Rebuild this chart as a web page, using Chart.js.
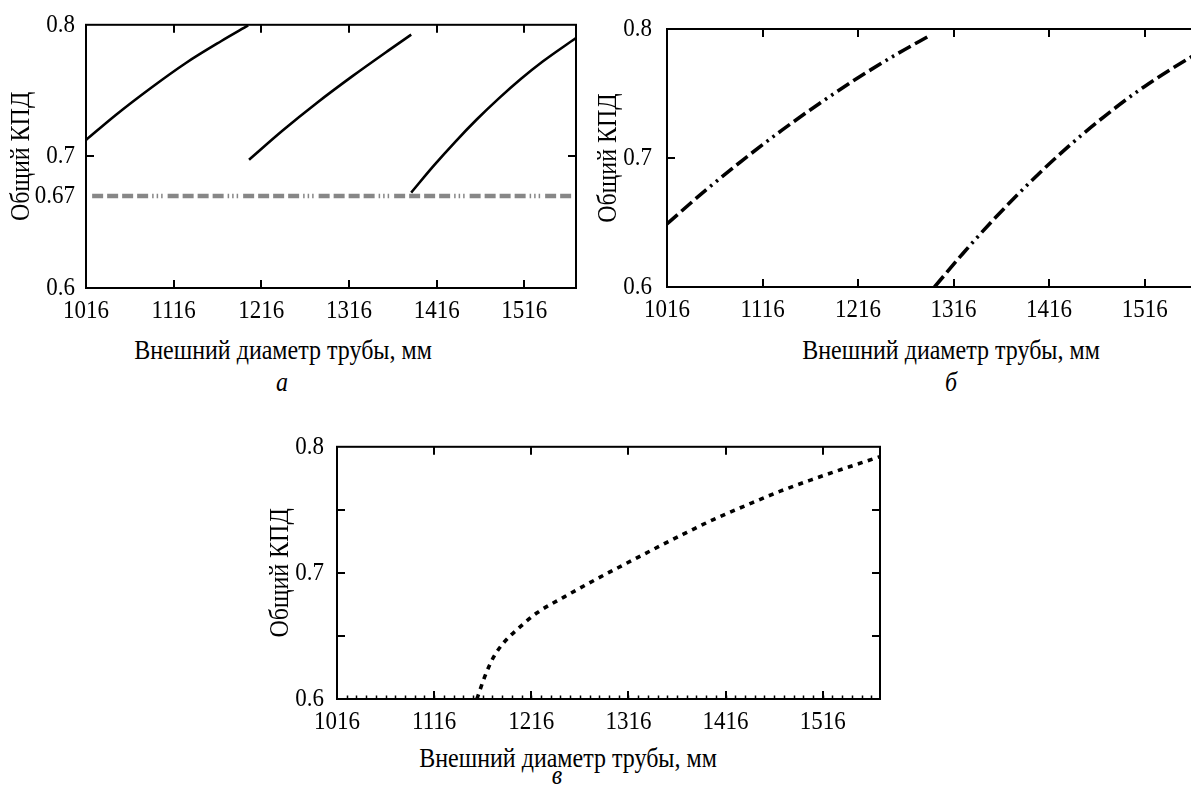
<!DOCTYPE html>
<html lang="ru">
<head>
<meta charset="UTF-8">
<title>Общий КПД — внешний диаметр трубы</title>
<script src="https://cdn.jsdelivr.net/npm/chart.js@4"></script>
<style>
  html, body { margin: 0; padding: 0; background: #fff; overflow: hidden; width: 1191px; height: 792px; }
  body { position: relative; font-family: 'Liberation Serif', 'Times New Roman', serif; color: #000; }
  .panel { position: absolute; }
  .xtitle, .letter { position: absolute; font-size: 24px; line-height: 24px; white-space: nowrap; transform: translateX(-50%) scaleY(1.12); }
  .letter { font-style: italic; }
</style>
</head>
<body>
<div class="panel" style="left:0;top:0"><canvas id="chart-a" width="600" height="330"></canvas></div>
<div class="panel" style="left:580px;top:0"><canvas id="chart-b" width="640" height="330"></canvas></div>
<div class="panel" style="left:260px;top:420px"><canvas id="chart-v" width="640" height="320"></canvas></div>

<div class="xtitle" style="left:283px;top:338px">Внешний диаметр трубы, мм</div>
<div class="letter" style="left:282px;top:370px">а</div>
<div class="xtitle" style="left:951px;top:338px">Внешний диаметр трубы, мм</div>
<div class="letter" style="left:951px;top:370px">б</div>
<div class="xtitle" style="left:568px;top:746px">Внешний диаметр трубы, мм</div>
<div class="letter" style="left:557px;top:763px">в</div>

<script>
// axes
const xMin = 1016, xMax = 1575;
const xTicks = [1016, 1116, 1216, 1316, 1416, 1516];
const yTicksA = [0.6, 0.67, 0.7, 0.8];
const yTicks = [0.6, 0.7, 0.8];

// panel а
const aX1 = [1016, 1050, 1090, 1130, 1170, 1201];
const aY1 = [0.7125, 0.7315, 0.752, 0.771, 0.7875, 0.7995];
const aX2 = [1202, 1240, 1280, 1320, 1360, 1387];
const aY2 = [0.6975, 0.7195, 0.741, 0.761, 0.780, 0.7925];
const aX3 = [1387, 1412, 1437, 1462, 1487, 1512, 1537, 1575];
const aY3 = [0.6725, 0.6924, 0.7109, 0.7282, 0.7441, 0.7588, 0.7721, 0.790];
const aXLim = [1023, 1575];
const aYLim = [0.67, 0.67];

// panel б
const bX1 = [1016, 1056, 1096, 1136, 1176, 1216, 1256, 1292];
const bY1 = [0.649, 0.6747, 0.6988, 0.7214, 0.7425, 0.7622, 0.7803, 0.7953];
const bX2 = [1296, 1326, 1356, 1396, 1436, 1476, 1516, 1565, 1575];
const bY2 = [0.6, 0.6262, 0.6508, 0.6812, 0.7088, 0.7335, 0.7555, 0.7785, 0.7827];

// panel в
const vX = [1160, 1168, 1177, 1188, 1202, 1222, 1250, 1280, 1310, 1340, 1372, 1404, 1440, 1473, 1505, 1535, 1575];
const vY = [0.6, 0.6175, 0.633, 0.645, 0.6555, 0.6684, 0.681, 0.6938, 0.706, 0.718, 0.7305, 0.7425, 0.7545, 0.765, 0.774, 0.782, 0.7922];

Chart.defaults.font.family = "'Liberation Serif', 'Times New Roman', serif";
Chart.defaults.color = '#000';

const pts = (xs, ys) => xs.map((x, i) => ({ x: x, y: ys[i] }));

// the scanned figure has slightly tall lettering; stretch canvas text a bit
function stretchText(canvas, k) {
  const ctx = canvas.getContext('2d');
  const orig = ctx.fillText.bind(ctx);
  ctx.fillText = function (text, x, y, maxWidth) {
    ctx.save();
    ctx.translate(x, y);
    ctx.scale(1, k);
    if (maxWidth === undefined) orig(text, 0, 0);
    else orig(text, 0, 0, maxWidth);
    ctx.restore();
  };
}

// frame with inward ticks on all sides
const framePlugin = {
  id: 'frame',
  afterDatasetsDraw(chart, args, opts) {
    const { ctx, chartArea: a, scales: { x, y } } = chart;
    ctx.save();
    ctx.strokeStyle = '#000';
    ctx.lineWidth = 2;
    ctx.strokeRect(a.left, a.top, a.right - a.left, a.bottom - a.top);
    ctx.beginPath();
    (opts.xMarks || []).forEach(v => {
      const px = Math.round(x.getPixelForValue(v));
      ctx.moveTo(px, a.top); ctx.lineTo(px, a.top + 8);
      ctx.moveTo(px, a.bottom); ctx.lineTo(px, a.bottom - 8);
    });
    (opts.yMarks || []).forEach(v => {
      const py = Math.round(y.getPixelForValue(v));
      ctx.moveTo(a.left, py); ctx.lineTo(a.left + 8, py);
      ctx.moveTo(a.right, py); ctx.lineTo(a.right - 8, py);
    });
    ctx.stroke();
    if (opts.xMinor) {
      ctx.lineWidth = 1.5;
      ctx.beginPath();
      for (let v = xMin + opts.xMinor; v < xMax; v += opts.xMinor) {
        const px = Math.round(x.getPixelForValue(v)) + 0.5;
        ctx.moveTo(px, a.bottom); ctx.lineTo(px, a.bottom - 3.5);
      }
      ctx.stroke();
    }
    ctx.restore();
  }
};

function makeChart(id, cfg) {
  const canvas = document.getElementById(id);
  stretchText(canvas, 1.12);
  return new Chart(canvas, {
    type: 'line',
    data: { datasets: cfg.datasets },
    options: {
      responsive: false,
      animation: false,
      layout: { padding: { top: cfg.top, right: cfg.right, left: 0, bottom: 0 } },
      elements: {
        point: { radius: 0 },
        line: { borderCapStyle: 'butt', cubicInterpolationMode: 'monotone', fill: false }
      },
      plugins: { legend: { display: false }, tooltip: { enabled: false }, frame: cfg.frame },
      scales: {
        x: {
          type: 'linear', min: xMin, max: xMax,
          grid: { display: false, drawTicks: false }, border: { display: false },
          afterBuildTicks: s => { s.ticks = xTicks.map(v => ({ value: v })); },
          afterFit: s => { s.height = cfg.xHeight; },
          ticks: { autoSkip: false, maxRotation: 0, padding: 9, font: { size: 23 }, color: '#000', callback: v => String(v) }
        },
        y: {
          type: 'linear', min: 0.6, max: 0.8,
          grid: { display: false, drawTicks: false }, border: { display: false },
          afterBuildTicks: s => { s.ticks = cfg.yTicks.map(v => ({ value: v })); },
          afterFit: s => { s.width = cfg.yWidth; },
          ticks: { padding: cfg.yPad, font: { size: 23 }, color: '#000', callback: v => String(v) },
          title: { display: true, text: 'Общий КПД', font: { size: 24 }, color: '#000', padding: { top: cfg.titlePad, bottom: 0 } }
        }
      }
    },
    plugins: [framePlugin]
  });
}

const solid = { borderColor: '#000', borderWidth: 2.6 };

makeChart('chart-a', {
  top: 20, right: 24, xHeight: 42, yWidth: 86, yPad: 11, titlePad: 8,
  yTicks: yTicksA,
  frame: { xMarks: xTicks.slice(1), yMarks: [0.7] },
  datasets: [
    { data: pts(aXLim, aYLim), borderColor: '#878787', borderWidth: 4.5,
      borderDash: [11, 4, 11, 4, 11, 4, 11, 4, 1.5, 3, 1.5, 3, 1.5, 5] },
    Object.assign({ data: pts(aX1, aY1) }, solid),
    Object.assign({ data: pts(aX2, aY2) }, solid),
    Object.assign({ data: pts(aX3, aY3) }, solid)
  ]
});

const dashDotDot = { borderColor: '#000', borderWidth: 3.6, borderDash: [14, 5, 14, 5, 14, 5, 2.5, 5, 2.5, 5] };

makeChart('chart-b', {
  top: 29, right: 19, xHeight: 43, yWidth: 87, yPad: 15, titlePad: 14.6,
  yTicks: yTicks,
  frame: { xMarks: xTicks.slice(1), yMarks: [0.7] },
  datasets: [
    Object.assign({ data: pts(bX1, bY1) }, dashDotDot),
    Object.assign({ data: pts(bX2, bY2) }, dashDotDot)
  ]
});

makeChart('chart-v', {
  top: 23, right: 20, xHeight: 41, yWidth: 77, yPad: 13, titlePad: 6.6,
  yTicks: yTicks,
  frame: { xMarks: xTicks.slice(1), yMarks: [0.65, 0.7, 0.75], xMinor: 10 },
  datasets: [
    { data: pts(vX, vY), borderColor: '#000', borderWidth: 3.6, borderDash: [5, 5.5] }
  ]
});
</script>
</body>
</html>
